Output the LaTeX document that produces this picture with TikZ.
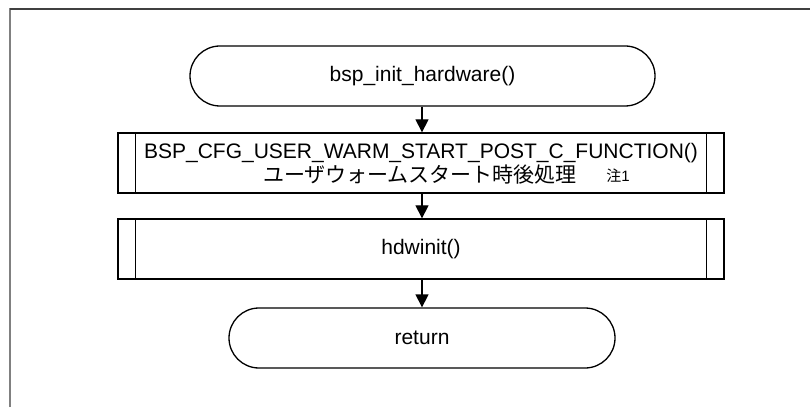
\documentclass[tikz,border=0pt]{standalone}
\usepackage{fontspec}
\setmainfont{Liberation Sans}
\newfontfamily\jpfont{Noto Sans CJK JP}
\usetikzlibrary{shapes.misc,arrows.meta}
\begin{document}
\begin{tikzpicture}[x=1pt,y=1pt,
  term/.style={draw,line width=1.3pt,rounded rectangle,minimum width=#1,minimum height=60pt,inner sep=0pt,font=\fontsize{21}{25}\selectfont},
  proc/.style={draw,line width=1.3pt,rectangle,minimum width=606pt,minimum height=60pt,inner sep=0pt},
  flow/.style={line width=1.3pt,-{Triangle[length=13pt,width=13pt]}},
  txt/.style={font=\fontsize{21}{25}\selectfont,inner sep=0pt},
  note/.style={font=\fontsize{15}{17}\selectfont,inner sep=0pt}]
\useasboundingbox (0,0) rectangle (810,407);
\draw[gray,line width=1.3pt] (10,0) -- (10,398.6);
\draw[black!75,line width=1.5pt] (10,398) -- (810,398);
\node[term=465pt] (start) at (422.5,331) {bsp\_init\_hardware()};
\node[proc] (b1) at (421,244) {};
\draw[line width=1.3pt] ([xshift=18pt]b1.north west) -- ([xshift=18pt]b1.south west);
\draw[line width=1.3pt] ([xshift=-18pt]b1.north east) -- ([xshift=-18pt]b1.south east);
\node[txt] (t1) at (421,254) {BSP\_CFG\_USER\_WARM\_START\_POST\_C\_FUNCTION()};
\node[txt] (t2) at (420,232) {\jpfont ユーザウォームスタート時後処理};
\node[note] (t3) at (618,231) {\jpfont 注\fontspec{Liberation Sans}1};
\node[proc] (b2) at (421,158) {};
\draw[line width=1.3pt] ([xshift=18pt]b2.north west) -- ([xshift=18pt]b2.south west);
\draw[line width=1.3pt] ([xshift=-18pt]b2.north east) -- ([xshift=-18pt]b2.south east);
\node[txt] (t4) at (421,158) {hdwinit()};
\node[term=386pt] (ret) at (422,69) {return};
\draw[flow] (start.south -| 422,0) -- (b1.north -| 422,0);
\draw[flow] (b1.south -| 422,0) -- (b2.north -| 422,0);
\draw[flow] (b2.south -| 422,0) -- (ret.north -| 422,0);
\end{tikzpicture}
\end{document}
